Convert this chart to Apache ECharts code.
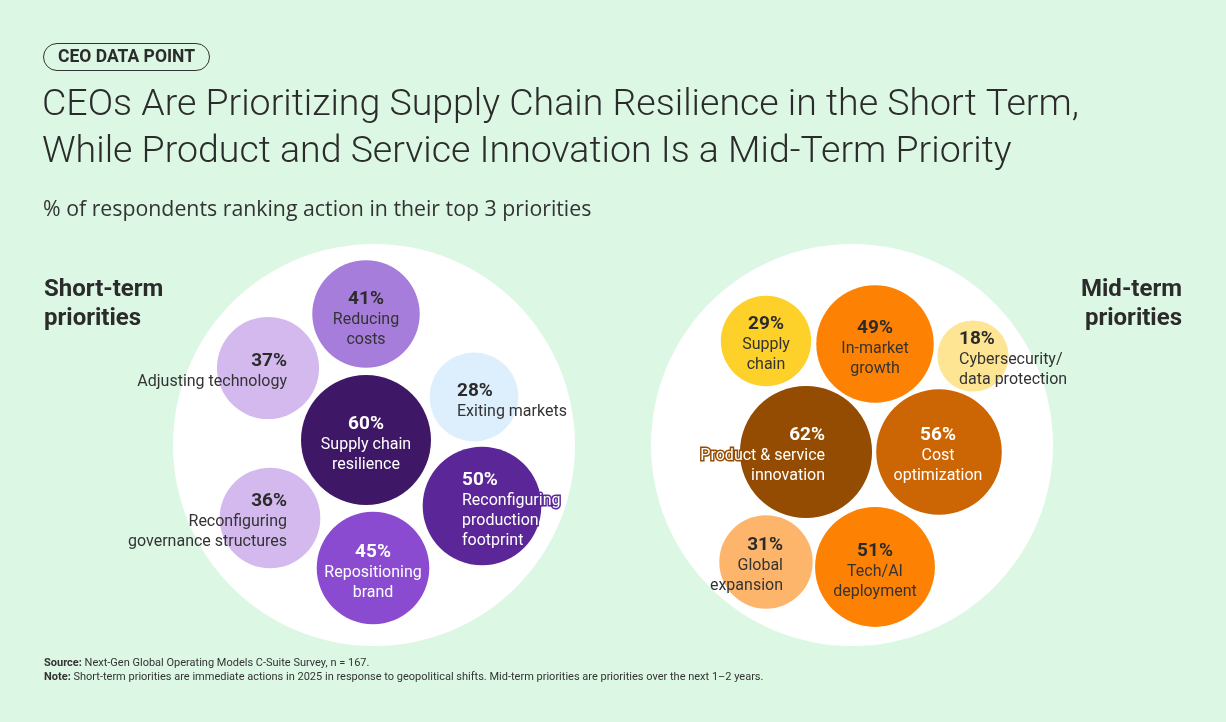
<!DOCTYPE html>
<html><head><meta charset="utf-8">
<script src="https://cdn.jsdelivr.net/npm/echarts@6/dist/echarts.min.js"></script>
<style>html,body{margin:0;padding:0;background:#dcf7e3;}#c{width:1226px;height:722px;}</style>
</head><body><div id="c"></div>
<script>
// ---- data ----
const shortLabels = ['Supply chain\nresilience', 'Reducing\ncosts', 'Adjusting technology', 'Exiting markets', 'Reconfiguring\nproduction\nfootprint', 'Reconfiguring\ngovernance structures', 'Repositioning\nbrand'];
const shortValues = [60, 41, 37, 28, 50, 36, 45];
const midLabels = ['Product & service\ninnovation', 'Cost\noptimization', 'Tech/AI\ndeployment', 'In-market\ngrowth', 'Supply\nchain', 'Global\nexpansion', 'Cybersecurity/\ndata protection'];
const midValues = [62, 56, 51, 49, 29, 31, 18];

// ---- layout (packing positions, label anchors, colours) ----
const shortLayout = [
  {c:[366,440], d:[0,4], a:'center', fill:'#3e1866', dark:true},
  {c:[366,314], d:[0,5], a:'center', fill:'#a77ddb', dark:false},
  {c:[268,368], d:[19,3], a:'right', fill:'#d3b9ee', dark:false},
  {c:[474,397], d:[-17,4], a:'left', fill:'#ddeefc', dark:false},
  {c:[482,506], d:[-20,4], a:'left', fill:'#5b2697', dark:true},
  {c:[270,518], d:[17,3], a:'right', fill:'#d3b9ee', dark:false},
  {c:[373,568], d:[0,4], a:'center', fill:'#8a4bd0', dark:true}
];
const midLayout = [
  {c:[806,452], d:[19,3], a:'right', fill:'#934c02', dark:true},
  {c:[939,452], d:[-1,3], a:'center', fill:'#cc6504', dark:true},
  {c:[875,567], d:[0,4], a:'center', fill:'#fd8204', dark:false},
  {c:[875,344], d:[0,4], a:'center', fill:'#fd8204', dark:false},
  {c:[766,341], d:[0,3], a:'center', fill:'#fdd12a', dark:false},
  {c:[766,562], d:[17,3], a:'right', fill:'#fdb56c', dark:false},
  {c:[973,356], d:[-14,3], a:'left', fill:'#fde594', dark:false}
];
const clusters = [[374,445],[852,445]];
const K = 8.39; // radius per sqrt(percent point)
const FONT = 'Roboto';
const WIDE = 'Open Sans';

function bubbleData(labels, values, layout){
  return values.map((v,i)=>{
    const L = layout[i];
    const txt = labels[i].split('\n').map(s=>'{n|'+s+'}').join('\n');
    const col = L.dark ? '#ffffff' : '#333333';
    const bc = L.dark ? L.fill : 'transparent', bw = L.dark ? 3 : 0;
    return {
      value:[L.c[0], L.c[1], v],
      symbolSize: 2*K*Math.sqrt(v),
      itemStyle:{color:L.fill, opacity:1},
      label:{
        show:true, position:'inside', offset:L.d, align:L.a, verticalAlign:'middle',
        formatter:'{p|'+v+'%}\n'+txt,
        textBorderColor: bc, textBorderWidth: bw,
        rich:{
          p:{fontFamily:FONT, fontWeight:'bold', fontSize:19, lineHeight:22, color: L.dark?'#ffffff':'#2b2b2b', align:L.a, textBorderColor: bc, textBorderWidth: bw},
          n:{fontFamily:FONT, fontSize:16, lineHeight:20, color: col, align:L.a, textBorderColor: bc, textBorderWidth: bw}
        }
      }
    };
  });
}

const chart = echarts.init(document.getElementById('c'), null, {renderer:'canvas'});
chart.setOption({
  backgroundColor:'#dcf7e3',
  animation:false,
  grid:{left:0,right:0,top:0,bottom:0},
  xAxis:{type:'value',min:0,max:1226,show:false},
  yAxis:{type:'value',min:0,max:722,inverse:true,show:false},
  series:[
    {type:'scatter', silent:true, z:1, symbolSize:402, itemStyle:{color:'#ffffff', opacity:1}, data:clusters},
    {type:'scatter', silent:true, z:2, data:bubbleData(shortLabels, shortValues, shortLayout)},
    {type:'scatter', silent:true, z:2, data:bubbleData(midLabels, midValues, midLayout)}
  ],
  graphic:[
    {type:'rect', shape:{x:43.5,y:43.5,width:166,height:27,r:13.5}, style:{fill:'none',stroke:'#333',lineWidth:1}},
    {type:'text', x:126.5, y:57.5, style:{text:'CEO DATA POINT', fontFamily:FONT, fontWeight:'bold', fontSize:17.5, fill:'#2b2b2b', align:'center', verticalAlign:'middle'}},
    {type:'text', x:42, y:106, style:{text:'CEOs Are Prioritizing Supply Chain Resilience in the Short Term,', fontFamily:FONT, fontWeight:300, fontSize:37.5, fill:'#2b2b2b', verticalAlign:'middle'}},
    {type:'text', x:42, y:153, style:{text:'While Product and Service Innovation Is a Mid-Term Priority', fontFamily:FONT, fontWeight:300, fontSize:37.5, fill:'#2b2b2b', verticalAlign:'middle'}},
    {type:'text', x:43, y:210, style:{text:'% of respondents ranking action in their top 3 priorities', fontFamily:WIDE, fontSize:21.3, fill:'#333', verticalAlign:'middle'}},
    {type:'text', x:44, y:304, style:{text:'Short-term\npriorities', fontFamily:FONT, fontWeight:'bold', fontSize:24, lineHeight:29, fill:'#2b2b2b', verticalAlign:'middle'}},
    {type:'text', x:1182, y:304, style:{text:'Mid-term\npriorities', fontFamily:FONT, fontWeight:'bold', fontSize:24, lineHeight:29, fill:'#2b2b2b', align:'right', verticalAlign:'middle'}},
    {type:'text', x:44, y:656, style:{text:'{b|Source:} Next-Gen Global Operating Models C-Suite Survey, n = 167.\n{b|Note:} Short-term priorities are immediate actions in 2025 in response to geopolitical shifts. Mid-term priorities are priorities over the next 1\u20132 years.',
      fontFamily:FONT, fontSize:11, lineHeight:14, fill:'#333', rich:{b:{fontFamily:FONT, fontWeight:'bold', fontSize:11, lineHeight:14, fill:'#333'}}}}
  ]
});
</script></body></html>
